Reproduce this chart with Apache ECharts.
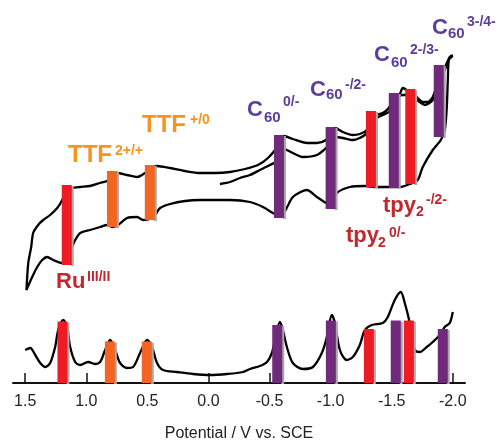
<!DOCTYPE html>
<html>
<head>
<meta charset="utf-8">
<script src="https://cdn.jsdelivr.net/npm/echarts@6/dist/echarts.min.js"></script>
<style>
  html, body { margin: 0; padding: 0; background: #fff; }
  #chart { width: 502px; height: 442px; }
</style>
</head>
<body>
<div id="chart"></div>
<script>
// potential axis (V vs. SCE), drawn reversed
const tickValues = [1.5, 1.0, 0.5, 0.0, -0.5, -1.0, -1.5, -2.0]

// cyclic voltammogram, one continuous trace [potential, current (a.u.)]
const cvTrace = [
  [-0.094, 10.6], [-0.176, 10.8], [-0.258, 11.2], [-0.34, 11.5], [-0.422, 12.0], [-0.503, 12.5],
  [-0.577, 13.0], [-0.618, 14.1], [-0.691, 13.7], [-0.773, 13.3], [-0.888, 13.5], [-0.962, 14.2],
  [-1.003, 14.8], [-1.035, 15.3], [-1.1, 15.2], [-1.182, 15.0], [-1.28, 15.5], [-1.329, 16.5],
  [-1.378, 17.2], [-1.476, 17.8], [-1.517, 18.7], [-1.583, 19.5], [-1.648, 19.5], [-1.705, 19.0],
  [-1.771, 18.5], [-1.836, 19.0], [-1.885, 20.5], [-1.951, 22.5], [-1.975, 23.2], [-2.0, 23.4],
  [-1.968, 23.0], [-1.96, 21.2], [-1.951, 18.3], [-1.935, 16.0], [-1.902, 15.0], [-1.836, 14.0],
  [-1.754, 12.3], [-1.713, 11.0], [-1.648, 10.6], [-1.566, 10.3], [-1.468, 10.3], [-1.378, 10.3],
  [-1.28, 10.4], [-1.157, 10.3], [-1.051, 9.7], [-1.003, 8.5], [-0.962, 8.7], [-0.888, 9.3],
  [-0.806, 10.0], [-0.691, 9.3], [-0.618, 7.7], [-0.577, 7.4], [-0.528, 7.7], [-0.446, 8.3],
  [-0.34, 8.8], [-0.176, 9.0], [0.069, 9.0], [0.192, 8.9], [0.314, 8.6], [0.396, 8.2],
  [0.437, 7.5], [0.478, 7.1], [0.535, 7.0], [0.584, 7.3], [0.666, 7.2], [0.74, 6.5],
  [0.789, 6.3], [0.83, 6.5], [0.887, 6.3], [0.969, 6.0], [1.05, 5.7], [1.091, 5.0],
  [1.116, 4.3], [1.165, 2.8], [1.197, 2.7], [1.271, 3.0], [1.32, 3.3], [1.361, 3.0],
  [1.402, 2.3], [1.443, 1.3], [1.49, 0.0],
  [1.475, 2.7], [1.451, 4.3], [1.435, 5.7], [1.394, 6.5], [1.353, 7.0], [1.296, 7.5],
  [1.238, 8.2], [1.197, 9.0], [1.165, 10.0], [1.116, 10.2], [1.05, 10.3], [0.969, 10.4],
  [0.887, 10.7], [0.83, 10.9], [0.789, 11.4], [0.748, 11.7], [0.666, 11.5], [0.584, 11.3],
  [0.519, 11.7], [0.478, 12.2], [0.421, 12.4], [0.314, 12.2], [0.192, 11.9], [0.069, 11.7],
  [-0.054, 11.7], [-0.176, 11.8], [-0.299, 12.1], [-0.405, 12.5], [-0.487, 13.2], [-0.577, 14.5],
  [-0.618, 15.4], [-0.691, 15.1], [-0.806, 14.7], [-0.888, 14.7], [-0.962, 15.0], [-1.003, 15.7],
  [-1.035, 16.2], [-1.1, 15.8], [-1.182, 15.5], [-1.239, 15.6], [-1.296, 16.0], [-1.329, 16.9],
  [-1.378, 17.5], [-1.427, 17.7], [-1.476, 18.2], [-1.517, 19.1], [-1.566, 19.6], [-1.591, 20.2],
  [-1.648, 19.8], [-1.705, 19.3], [-1.754, 18.8], [-1.795, 18.8], [-1.836, 19.3], [-1.885, 21.0],
  [-1.951, 22.7], [-1.975, 23.3], [-2.0, 23.5]
]

// differential pulse voltammogram [potential, current (a.u.)]
const dpvTrace = [
  [1.5, 3.3], [1.459, 3.5], [1.418, 2.8], [1.377, 2.0], [1.336, 1.6], [1.296, 2.0],
  [1.255, 3.6], [1.23, 5.3], [1.189, 6.3], [1.157, 5.6], [1.132, 3.6], [1.091, 2.1],
  [1.05, 1.8], [0.985, 2.1], [0.928, 1.9], [0.887, 2.1], [0.846, 3.3], [0.805, 4.3],
  [0.764, 3.3], [0.723, 2.0], [0.666, 1.5], [0.617, 1.6], [0.56, 3.0], [0.502, 4.3],
  [0.462, 3.6], [0.421, 2.0], [0.372, 1.3], [0.257, 1.1], [0.126, 0.9], [-0.013, 0.8],
  [-0.152, 0.9], [-0.283, 1.1], [-0.34, 1.4], [-0.422, 1.7], [-0.479, 2.1], [-0.519, 3.0],
  [-0.544, 4.3], [-0.585, 6.1], [-0.609, 5.3], [-0.642, 3.6], [-0.691, 2.0], [-0.773, 1.4],
  [-0.855, 1.6], [-0.928, 3.0], [-0.969, 4.6], [-1.01, 6.8], [-1.035, 6.0], [-1.076, 3.3],
  [-1.133, 2.3], [-1.182, 2.6], [-1.239, 3.8], [-1.28, 5.3], [-1.337, 5.8], [-1.427, 6.0],
  [-1.468, 6.6], [-1.525, 8.3], [-1.574, 9.1], [-1.607, 8.0], [-1.648, 6.0], [-1.689, 3.3],
  [-1.73, 3.1], [-1.787, 3.6], [-1.836, 4.1], [-1.893, 4.8], [-1.934, 5.6], [-1.975, 6.0],
  [-2.0, 7.1]
]

// redox couples
const coupleKinds = ['Ru', 'TTF', 'TTF', 'C60', 'C60', 'tpy', 'C60', 'tpy', 'C60']
const cvPotentials = [1.16, 0.79, 0.48, -0.577, -1.0, -1.33, -1.517, -1.652, -1.885]
const cvLow = [2.5, 6.3, 7.0, 7.2, 8.1, 10.3, 10.2, 10.6, 15.3]
const cvHigh = [10.5, 11.9, 12.5, 15.5, 16.3, 17.9, 19.7, 20.1, 22.5]
const dpvPotentials = [1.195, 0.807, 0.505, -0.563, -1.002, -1.313, -1.533, -1.64, -1.918]
const dpvHeights = [6.15, 4.15, 4.15, 5.8, 6.25, 5.4, 6.25, 6.25, 5.4]

const kindColor = { Ru: '#ED1C24', TTF: '#F26522', C60: '#6F2A7B', tpy: '#ED1C24' }
const FONT = '"Liberation Sans", Arial, sans-serif'

const cvBars = cvPotentials.map((v, i) => [v, cvLow[i], cvHigh[i], i])
const dpvBars = dpvPotentials.map((v, i) => [v, 0, dpvHeights[i], i])

const renderBar = (params, api) => {
  const top = api.coord([api.value(0), api.value(2)])
  const bot = api.coord([api.value(0), api.value(1)])
  const w = 10
  const color = kindColor[coupleKinds[api.value(3)]]
  return {
    type: 'group',
    children: [
      { type: 'rect', shape: { x: top[0] + w / 2 - 1, y: top[1] + 1, width: 3, height: bot[1] - top[1] }, style: { fill: '#a8a8a8' } },
      { type: 'rect', shape: { x: top[0] - w / 2, y: top[1], width: w, height: bot[1] - top[1] }, style: { fill: color } },
    ],
  }
}

// label pieces: [text, x, y, size, color]
const ORANGE = '#F7941D', RED = '#C1272D', PURPLE = '#5C3D9C'
const pieces = [
  ['TTF', 68, 155, 24, ORANGE], ['2+/+', 115, 151, 14, ORANGE],
  ['TTF', 142, 125, 24, ORANGE], ['+/0', 190, 120, 14, ORANGE],
  ['Ru', 56, 282, 22, RED], ['III/II', 87, 277, 14, RED],
  ['C', 247, 110, 22, PURPLE], ['60', 264, 118, 15, PURPLE], ['0/-', 283, 102, 14, PURPLE],
  ['C', 310, 90, 22, PURPLE], ['60', 326, 95, 15, PURPLE], ['-/2-', 345, 85, 14, PURPLE],
  ['C', 374, 55, 22, PURPLE], ['60', 391, 63, 15, PURPLE], ['2-/3-', 410, 50, 14, PURPLE],
  ['C', 432, 28, 22, PURPLE], ['60', 448, 34, 15, PURPLE], ['3-/4-', 467, 22, 14, PURPLE],
  ['tpy', 383, 206, 22, RED], ['2', 416, 212, 14, RED], ['-/2-', 426, 200, 14, RED],
  ['tpy', 346, 236, 22, RED], ['2', 378, 243, 14, RED], ['0/-', 389, 233, 14, RED],
]

const chart = echarts.init(document.getElementById('chart'))
chart.setOption({
  animation: false,
  backgroundColor: '#fff',
  grid: [
    { left: 13, right: 37, top: 40, height: 250, outerBoundsMode: 'none' },
    { left: 13, right: 37, top: 283, height: 100, outerBoundsMode: 'none' },
  ],
  xAxis: [
    { type: 'value', gridIndex: 0, min: -2.1, max: 1.6, inverse: true, show: false },
    {
      type: 'value', gridIndex: 1, min: -2.1, max: 1.6, inverse: true,
      name: 'Potential / V vs. SCE', nameLocation: 'middle', nameGap: 43,
      nameTextStyle: { fontFamily: FONT, fontSize: 16, color: '#222' },
      axisLine: { lineStyle: { color: '#111', width: 2 } },
      axisTick: { inside: true, length: 10, customValues: tickValues, lineStyle: { color: '#111', width: 1.5 } },
      axisLabel: { customValues: tickValues, margin: 11, fontFamily: FONT, fontSize: 16, color: '#222', formatter: v => v.toFixed(1) },
      splitLine: { show: false },
    },
  ],
  yAxis: [
    { type: 'value', gridIndex: 0, min: 0, max: 25, show: false },
    { type: 'value', gridIndex: 1, min: 0, max: 10, show: false },
  ],
  series: [
    { type: 'line', xAxisIndex: 0, yAxisIndex: 0, data: cvTrace, showSymbol: false, smooth: 0.25, lineStyle: { color: '#000', width: 2.3 }, z: 2 },
    { type: 'line', xAxisIndex: 1, yAxisIndex: 1, data: dpvTrace, showSymbol: false, smooth: 0.3, lineStyle: { color: '#000', width: 2.3 }, z: 2 },
    { type: 'custom', xAxisIndex: 0, yAxisIndex: 0, data: cvBars, renderItem: renderBar, z: 3 },
    { type: 'custom', xAxisIndex: 1, yAxisIndex: 1, data: dpvBars, renderItem: renderBar, z: 3 },
  ],
  graphic: pieces.map(([text, x, y, size, color]) => ({
    type: 'text', x, y, z: 10,
    style: { text, font: `bold ${size}px ${FONT}`, fill: color, align: 'left', verticalAlign: 'middle' },
  })),
})
window.addEventListener('resize', () => chart && chart.resize())
</script>
</body>
</html>
